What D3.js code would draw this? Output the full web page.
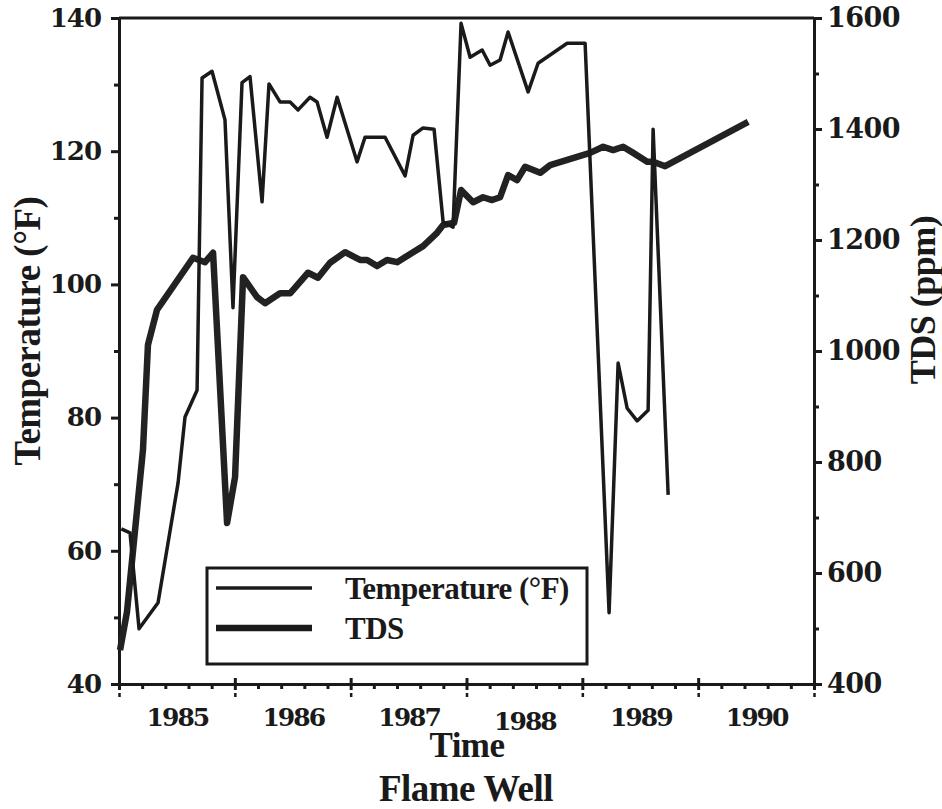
<!DOCTYPE html>
<html>
<head>
<meta charset="utf-8">
<script src="https://cdn.jsdelivr.net/npm/d3@7"></script>
<style>
  body { margin: 0; background: #fff; }
  svg text { font-family: "Liberation Serif", serif; font-weight: bold; fill: #1a1a1a; }
</style>
</head>
<body>
<svg id="chart" width="942" height="809"></svg>
<script>
// temperature readings (decimal year, deg F)
var tempYears = [1985.02, 1985.095, 1985.173, 1985.337, 1985.51, 1985.57, 1985.674, 1985.717, 1985.803, 1985.915,
                 1985.984, 1986.062, 1986.131, 1986.235, 1986.295, 1986.39, 1986.477, 1986.546, 1986.649, 1986.71,
                 1986.796, 1986.883, 1987.055, 1987.124, 1987.297, 1987.47, 1987.539, 1987.625, 1987.72, 1987.798,
                 1987.884, 1987.953, 1988.031, 1988.135, 1988.204, 1988.29, 1988.359, 1988.532, 1988.618, 1988.869,
                 1989.024, 1989.231, 1989.309, 1989.387, 1989.473, 1989.568, 1989.611, 1989.741];
var tempValues = [63.3, 62.7, 48.3, 52.2, 70.2, 80.1, 84.1, 131.0, 132.0, 124.7,
                  96.5, 130.3, 131.2, 112.4, 130.1, 127.4, 127.4, 126.2, 128.1, 127.4,
                  122.1, 128.1, 118.4, 122.1, 122.1, 116.3, 122.4, 123.5, 123.3, 109.4,
                  108.6, 139.2, 134.1, 135.2, 132.9, 133.7, 137.9, 128.9, 133.2, 136.2,
                  136.2, 50.7, 88.2, 81.4, 79.5, 81.1, 123.3, 68.4];

// TDS readings (decimal year, ppm)
var tdsYears = [1985.009, 1985.069, 1985.207, 1985.25, 1985.328, 1985.639, 1985.743, 1985.812, 1985.933, 1986.002,
                1986.071, 1986.192, 1986.261, 1986.39, 1986.477, 1986.632, 1986.718, 1986.822, 1986.952, 1987.081,
                1987.142, 1987.228, 1987.314, 1987.401, 1987.539, 1987.625, 1987.746, 1987.798, 1987.893, 1987.953,
                1988.057, 1988.143, 1988.221, 1988.29, 1988.359, 1988.437, 1988.506, 1988.636, 1988.722, 1989.067,
                1989.18, 1989.266, 1989.352, 1989.439, 1989.56, 1989.611, 1989.715, 1990.432];
var tdsValues = [461, 530, 822, 1011, 1074, 1168, 1160, 1177, 690, 773,
                 1133, 1097, 1086, 1104, 1104, 1141, 1132, 1159, 1178, 1164,
                 1164, 1153, 1164, 1160, 1178, 1189, 1213, 1227, 1231, 1290,
                 1268, 1277, 1272, 1277, 1317, 1308, 1332, 1321, 1335, 1357,
                 1368, 1362, 1368, 1357, 1341, 1341, 1333, 1413];

var yearLabels = [1985, 1986, 1987, 1988, 1989, 1990];
var tempTicks = [40, 60, 80, 100, 120, 140];
var tdsTicks = [400, 600, 800, 1000, 1200, 1400, 1600];
var seriesNames = ["Temperature (°F)", "TDS"];

var svg = d3.select("#chart");

var x = d3.scaleLinear().domain([1985, 1991]).range([119, 814]);
var yT = d3.scaleLinear().domain([40, 140]).range([684, 18]);
var yD = d3.scaleLinear().domain([400, 1600]).range([684, 18]);

function styleAxis(g, size, spacing){
  g.select(".domain").attr("stroke", "#1a1a1a").attr("stroke-width", 3);
  g.selectAll(".tick line").attr("stroke", "#1a1a1a").attr("stroke-width", 3);
  g.selectAll(".tick text")
   .style("font-size", size + "px")
   .style("font-family", "'DejaVu Serif', serif")
   .style("font-weight", "bold")
   .attr("letter-spacing", spacing)
   .attr("fill", "#1a1a1a");
}

//top border
svg.append("line")
   .attr("x1", x(1985)).attr("x2", x(1991))
   .attr("y1", yT(140)).attr("y2", yT(140))
   .attr("stroke", "#1a1a1a").attr("stroke-width", 3);

//left axis: major + minor
svg.append("g").attr("transform", "translate(119,0)")
   .call(d3.axisLeft(yT).tickValues(d3.range(50, 140, 20)).tickSize(5).tickSizeOuter(0).tickFormat(""))
   .call(styleAxis, 26, -1);
svg.append("g").attr("transform", "translate(119,0)")
   .call(d3.axisLeft(yT).tickValues(tempTicks).tickSize(8).tickSizeOuter(0).tickPadding(10).tickFormat(d3.format("d")))
   .call(styleAxis, 26, -1);

//right axis
svg.append("g").attr("transform", "translate(814,0)")
   .call(d3.axisRight(yD).tickValues(d3.range(500, 1600, 200)).tickSize(5).tickSizeOuter(0).tickFormat(""))
   .call(styleAxis, 27, -0.5);
svg.append("g").attr("transform", "translate(814,0)")
   .call(d3.axisRight(yD).tickValues(tdsTicks).tickSize(8).tickSizeOuter(0).tickPadding(5).tickFormat(d3.format("d")))
   .call(styleAxis, 27, -0.5);

//bottom axis
var minor = d3.range(0, 30).map(function(i){ return 1985 + i * 0.2; })
              .filter(function(d, i){ return i % 5 != 0; });
svg.append("g").attr("transform", "translate(0,684)")
   .call(d3.axisBottom(x).tickValues(minor).tickSize(5).tickSizeOuter(0).tickFormat(""))
   .call(styleAxis, 25, 0);
var major = svg.append("g").attr("transform", "translate(0,684)")
   .call(d3.axisBottom(x).tickValues(d3.range(1985, 1992)).tickSize(6).tickSizeOuter(0).tickFormat(""))
   .call(styleAxis, 25, 0);
major.selectAll(".tick line").attr("y1", -6);
// little marks under the year boundaries
major.selectAll(".tick").append("line")
     .attr("y1", 9).attr("y2", 13)
     .attr("stroke", "#1a1a1a").attr("stroke-width", 2.5);

var years = svg.append("g").attr("transform", "translate(0,684)")
   .call(d3.axisBottom(x).tickValues(yearLabels.map(function(d){ return d + 0.5; }))
           .tickSize(0).tickPadding(24).tickFormat(function(d){ return Math.floor(d); }))
   .call(styleAxis, 25, -2);
years.select(".domain").remove();
years.selectAll(".tick text")
     .attr("dy", function(d){ return Math.floor(d) == 1988 ? "0.88em" : "0.71em"; });

//lines
var tdsLine = d3.line()
                .x(function(d, i){ return x(tdsYears[i]); })
                .y(function(d){ return yD(d); });
var tempLine = d3.line()
                 .x(function(d, i){ return x(tempYears[i]); })
                 .y(function(d){ return yT(d); });

svg.append("path")
   .attr("d", tdsLine(tdsValues))
   .attr("fill", "none").attr("stroke", "#222")
   .attr("stroke-width", 6.5).attr("stroke-linejoin", "round");
svg.append("path")
   .attr("d", tempLine(tempValues))
   .attr("fill", "none").attr("stroke", "#1a1a1a")
   .attr("stroke-width", 3.5).attr("stroke-linejoin", "round");

//legend
var legend = svg.append("g").attr("id", "legend");
legend.append("rect")
      .attr("x", 207).attr("y", 568).attr("width", 380).attr("height", 96)
      .attr("fill", "#fff").attr("stroke", "#1a1a1a").attr("stroke-width", 3);
var items = legend.selectAll("g.item").data(seriesNames).enter()
                  .append("g").attr("class", "item")
                  .attr("transform", function(d, i){ return "translate(0," + (588 + i * 40) + ")"; });
items.append("line")
     .attr("x1", 216).attr("x2", 312)
     .attr("stroke", "#1a1a1a")
     .attr("stroke-width", function(d, i){ return i == 0 ? 3.5 : 6.5; });
items.append("text")
     .attr("x", 345).attr("y", 11)
     .style("font-size", "31px").attr("letter-spacing", -0.5)
     .text(function(d){ return d; });

//titles
svg.append("text")
   .attr("transform", "translate(40,331) rotate(-90)")
   .attr("text-anchor", "middle").style("font-size", "37px").attr("letter-spacing", -0.5)
   .text("Temperature (°F)");
svg.append("text")
   .attr("transform", "translate(935,300) rotate(-90)")
   .attr("text-anchor", "middle").style("font-size", "36px").attr("letter-spacing", -0.5)
   .text("TDS (ppm)");
svg.append("text")
   .attr("x", 467).attr("y", 757)
   .attr("text-anchor", "middle").style("font-size", "35px").attr("letter-spacing", -0.5)
   .text("Time");
svg.append("text")
   .attr("x", 466).attr("y", 801)
   .attr("text-anchor", "middle").style("font-size", "37px").attr("letter-spacing", -0.5)
   .text("Flame Well");
</script>
</body>
</html>
